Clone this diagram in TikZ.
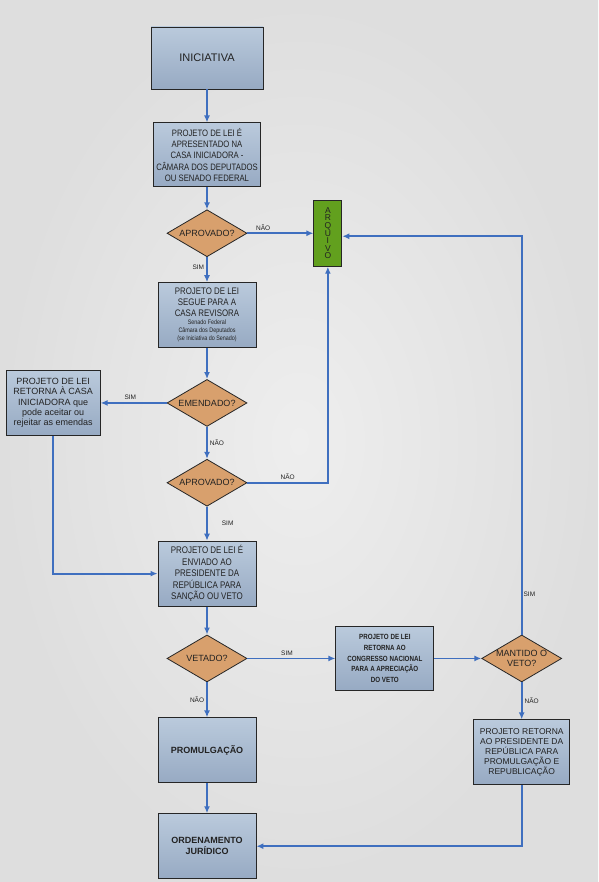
\documentclass[tikz,border=0pt]{standalone}
\usepackage{fontspec}
\setmainfont{Liberation Sans}
\newfontfamily\narrowsf{Liberation Sans}[FakeStretch=0.83]
\usetikzlibrary{arrows.meta,positioning,shapes.geometric}

\definecolor{boxtop}{HTML}{BACADC}
\definecolor{boxbot}{HTML}{97AAC3}
\definecolor{decfill}{HTML}{D8A06D}
\definecolor{arqfill}{HTML}{62A01E}
\definecolor{arrblue}{HTML}{3F6FBF}
\definecolor{txt}{HTML}{222222}
\definecolor{bgin}{HTML}{EEEEEE}
\definecolor{bgout}{HTML}{DEDEDE}

\newcommand\smalltxt{\fontsize{6.5}{8}\selectfont}

\begin{document}
\begin{tikzpicture}[
  x=1pt, y=1pt,
  node distance=30pt,
  box/.style={rectangle,draw=black!85,line width=0.9pt,align=center,top color=boxtop,bottom color=boxbot,text=txt,minimum width=98pt,minimum height=65pt,inner sep=1pt},
  dec/.style={diamond,aspect=1.7,draw=black!85,line width=0.8pt,fill=decfill,align=center,text=txt,minimum width=80pt,minimum height=47pt,inner sep=0pt,font=\fontsize{9}{10.5}\selectfont},
  lbl/.style={font=\fontsize{6.5}{7}\selectfont,text=txt,inner sep=2pt},
  arr/.style={-{Latex[length=7pt,width=6pt]},draw=arrblue,line width=1.8pt}
]
\shade[inner color=bgin,outer color=bgout] (0,0) rectangle (598,-882);
\useasboundingbox (0,0) rectangle (598,-882);

\node[box,minimum width=112pt,minimum height=62pt,font=\fontsize{11}{13}\selectfont] (inic) at (207,-58) {INICIATIVA};
\node[box,below=33pt of inic,minimum width=107pt,minimum height=64pt,font=\narrowsf\fontsize{9.3}{11.3}\selectfont] (casaini) {PROJETO DE LEI É\\APRESENTADO NA\\CASA INICIADORA -\\CÂMARA DOS DEPUTADOS\\OU SENADO FEDERAL};
\node[dec,below=22pt of casaini] (aprov1) {APROVADO?};
\node[rectangle,draw=black!85,line width=0.9pt,fill=arqfill,minimum width=28pt,minimum height=66pt,inner sep=0pt,align=center,text=txt,font=\fontsize{8.5}{7.6}\selectfont,right=66pt of aprov1] (arq) {A\\R\\Q\\U\\I\\V\\O};
\node[box,below=25pt of aprov1,font=\narrowsf\fontsize{9.5}{11}\selectfont] (revisora) {PROJETO DE LEI\\SEGUE PARA A\\CASA REVISORA\\[-3pt]{\smalltxt Senado Federal}\\[-3pt]{\smalltxt Câmara dos Deputados}\\[-3pt]{\smalltxt (se Iniciativa do Senado)}};
\node[dec,below=31pt of revisora] (emend) {EMENDADO?};
\node[box,left=66pt of emend,minimum width=94pt,font=\fontsize{9}{10.4}\selectfont] (volta) {PROJETO DE LEI\\RETORNA À CASA\\INICIADORA que\\pode aceitar ou\\rejeitar as emendas};
\node[dec,below=32pt of emend] (aprov2) {APROVADO?};
\node[box,below=34pt of aprov2,font=\narrowsf\fontsize{9.6}{11.5}\selectfont] (envio) {PROJETO DE LEI É\\ENVIADO AO\\PRESIDENTE DA\\REPÚBLICA PARA\\SANÇÃO OU VETO};
\node[dec,below=28pt of envio] (vetado) {VETADO?};
\node[box,right=88pt of vetado,minimum height=64pt,font=\narrowsf\bfseries\fontsize{7.5}{10.8}\selectfont] (congr) {PROJETO DE LEI\\RETORNA AO\\CONGRESSO NACIONAL\\PARA A APRECIAÇÃO\\DO VETO};
\node[dec,right=47pt of congr] (mant) {\makebox[40pt]{MANTIDO O}\\VETO?};
\node[box,below=37pt of mant,minimum width=96pt,font=\fontsize{8.5}{10}\selectfont] (retorna) {PROJETO RETORNA\\AO PRESIDENTE DA\\REPÚBLICA PARA\\PROMULGAÇÃO E\\REPUBLICAÇÃO};
\node[box,below=35pt of vetado,font=\bfseries\fontsize{9}{11}\selectfont] (promul) {PROMULGAÇÃO};
\node[box,below=30pt of promul,font=\bfseries\fontsize{9}{11.3}\selectfont] (orden) {ORDENAMENTO\\JURÍDICO};

\draw[arr] (inic) -- (casaini);
\draw[arr] (casaini) -- (aprov1);
\draw[arr] (aprov1) -- node[lbl,above,pos=0.24]{NÃO} (arq);
\draw[arr] (aprov1) -- node[lbl,left,pos=0.4]{SIM} (revisora);
\draw[arr] (revisora) -- (emend);
\draw[arr] (emend) -- node[lbl,above,pos=0.55]{SIM} (volta);
\draw[arr] (emend) -- node[lbl,right,pos=0.5]{NÃO} (aprov2);
\draw[arr] (aprov2) -| node[lbl,above,pos=0.25]{NÃO} (arq);
\draw[arr] (aprov2) -- node[lbl,right=12pt,pos=0.5]{SIM} (envio);
\draw[arr] (volta) |- (envio);
\draw[arr] (envio) -- (vetado);
\draw[arr] (vetado) -- node[lbl,above,pos=0.45]{SIM} (congr);
\draw[arr] (congr) -- (mant);
\draw[arr] (mant) |- node[lbl,right,inner sep=1pt,pos=0.05]{SIM} ([yshift=-3pt]arq.east);
\draw[arr] (mant) -- node[lbl,right,pos=0.5]{NÃO} (retorna);
\draw[arr] (vetado) -- node[lbl,left,pos=0.5]{NÃO} (promul);
\draw[arr] (promul) -- (orden);
\draw[arr] (retorna) |- (orden);
\end{tikzpicture}
\end{document}
